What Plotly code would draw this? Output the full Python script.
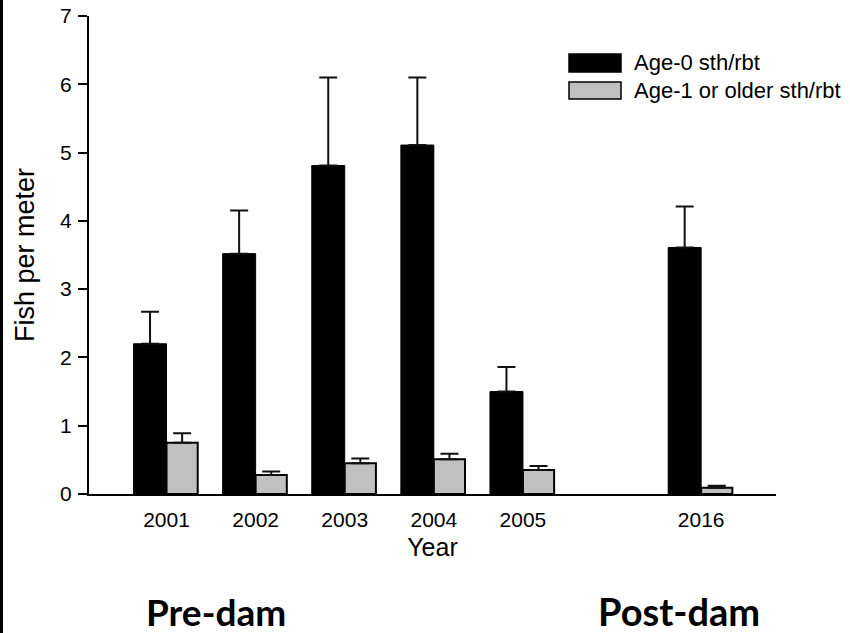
import plotly.graph_objects as go

# Sampling years (2001-2005 before the dam, 2016 after)
years = ["2001", "2002", "2003", "2004", "2005", "2016"]
slots = [0, 1, 2, 3, 4, 6]          # leave an empty slot between the periods

# Mean density (fish per meter) and standard error
age0_mean = [2.20, 3.52, 4.81, 5.11, 1.50, 3.61]
age0_se = [0.47, 0.63, 1.29, 0.99, 0.36, 0.60]
age1_mean = [0.75, 0.28, 0.45, 0.51, 0.35, 0.09]
age1_se = [0.14, 0.05, 0.07, 0.08, 0.06, 0.03]

age0_label = "Age-0 sth/rbt"
age1_label = "Age-1 or older sth/rbt"
period_labels = ["Pre-dam", "Post-dam"]

W, H = 850, 633
L, R, T, B = 89, 74, 16, 139
pw, ph = W - L - R, H - T - B


def px_x(p):
    return (p - L) / pw


def px_y(p):
    return (H - B - p) / ph


fig = go.Figure()
fig.add_trace(go.Bar(
    x=slots, y=age0_mean, name=age0_label,
    width=0.37, offset=-0.37,
    marker=dict(color="black", line=dict(color="black", width=1)),
    error_y=dict(type="data", array=age0_se, arrayminus=[0] * len(age0_se),
                 symmetric=False, color="#111111", thickness=2, width=9),
    showlegend=False,
))
fig.add_trace(go.Bar(
    x=slots, y=age1_mean, name=age1_label,
    width=0.35, offset=0.0,
    marker=dict(color="#c0c0c0", line=dict(color="black", width=2)),
    error_y=dict(type="data", array=age1_se, arrayminus=[0] * len(age1_se),
                 symmetric=False, color="#111111", thickness=2, width=9),
    showlegend=False,
))

font = "Liberation Sans, Arial, sans-serif"

shapes = [
    # frame line down the left edge of the figure
    dict(type="rect", xref="paper", yref="paper",
         x0=px_x(0), x1=px_x(3), y0=px_y(H + 5), y1=px_y(-5),
         fillcolor="black", line=dict(width=0)),
    # legend swatches
    dict(type="rect", xref="paper", yref="paper",
         x0=px_x(569), x1=px_x(621), y0=px_y(72), y1=px_y(54),
         fillcolor="black", line=dict(color="black", width=1.5)),
    dict(type="rect", xref="paper", yref="paper",
         x0=px_x(569), x1=px_x(621), y0=px_y(99), y1=px_y(82),
         fillcolor="#c0c0c0", line=dict(color="black", width=1.5)),
]

annotations = [
    dict(text=age0_label, xref="paper", yref="paper", x=px_x(632), y=px_y(63),
         xanchor="left", yanchor="middle", showarrow=False,
         font=dict(family=font, size=22, color="black")),
    dict(text=age1_label, xref="paper", yref="paper", x=px_x(632), y=px_y(90.5),
         xanchor="left", yanchor="middle", showarrow=False,
         font=dict(family=font, size=22, color="black")),
    dict(text="<b>%s</b>" % period_labels[0], xref="paper", yref="paper",
         x=px_x(216), y=px_y(611), xanchor="center", yanchor="middle",
         showarrow=False, font=dict(family="Lato, sans-serif", size=37, color="black")),
    dict(text="<b>%s</b>" % period_labels[1], xref="paper", yref="paper",
         x=px_x(679), y=px_y(611), xanchor="center", yanchor="middle",
         showarrow=False, font=dict(family="Lato, sans-serif", size=38, color="black")),
]

fig.update_layout(
    template="none",
    width=W, height=H,
    margin=dict(l=L, r=R, t=T, b=B, pad=0),
    paper_bgcolor="white", plot_bgcolor="white",
    font=dict(family=font, color="black"),
    barmode="overlay",
    shapes=shapes, annotations=annotations,
    showlegend=False,
)
fig.update_xaxes(
    automargin=False,
    range=[-0.87, 6.84], tickvals=slots, ticktext=years,
    showline=True, linecolor="black", linewidth=2, showgrid=False,
    zeroline=False, ticks="", ticklabelstandoff=6,
    tickfont=dict(family=font, size=21, color="black"),
    title=dict(text="Year", font=dict(family=font, size=25, color="black"), standoff=8),
)
fig.update_yaxes(
    automargin=False,
    range=[0, 7], dtick=1, tick0=0,
    showline=True, linecolor="black", linewidth=2, showgrid=False,
    zeroline=False, ticks="outside", ticklen=9, tickwidth=2, tickcolor="black",
    ticklabelstandoff=2,
    tickfont=dict(family=font, size=21, color="black"),
    title=dict(text="Fish per meter", font=dict(family=font, size=27, color="black"), standoff=18),
)

fig.write_html("out.html")
